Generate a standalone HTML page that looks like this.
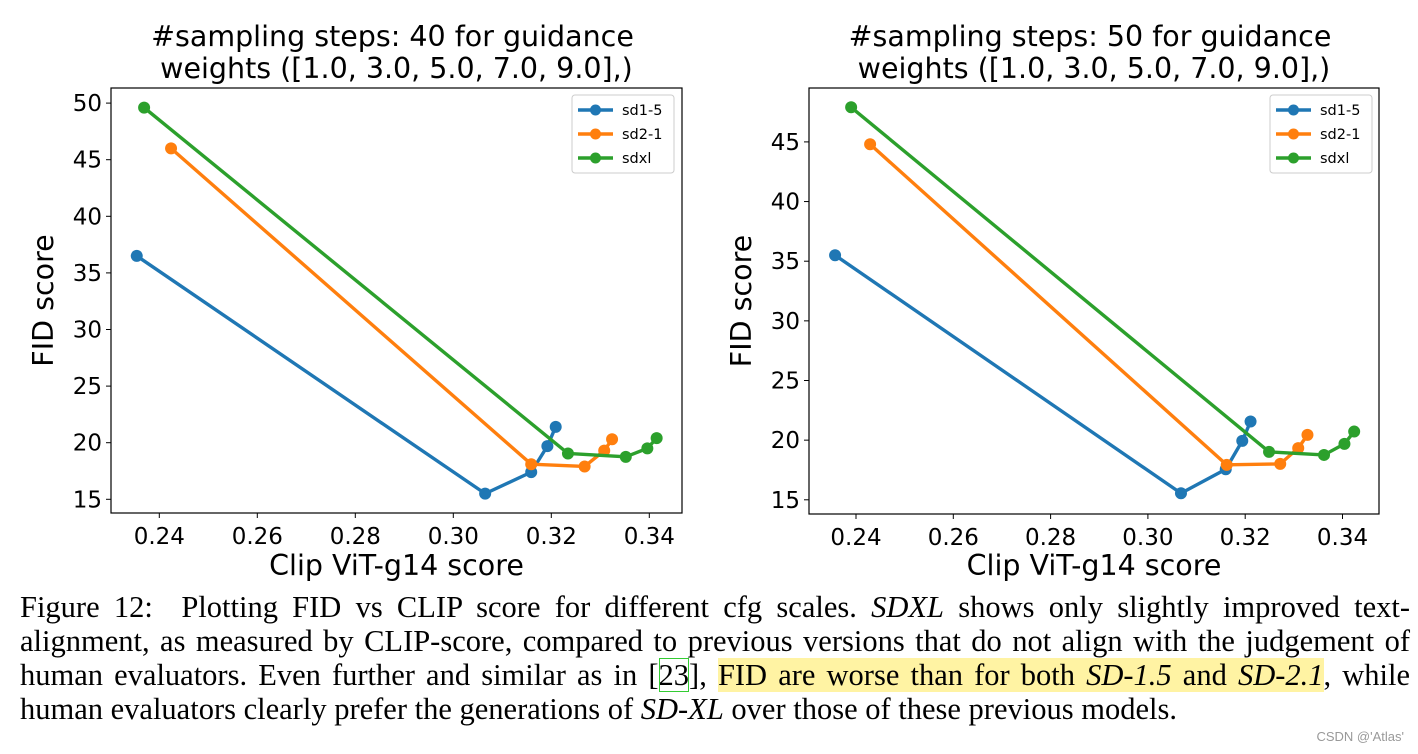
<!DOCTYPE html>
<html><head><meta charset="utf-8"><style>
body{margin:0;background:#fff;width:1418px;height:754px;overflow:hidden;position:relative}
svg{position:absolute;left:0;top:0}
.cap{position:absolute;left:20px;width:1390px;font-family:"Liberation Serif",serif;font-size:30.5px;line-height:34px;color:#000}
.ln{display:block;text-align:justify;text-align-last:justify;white-space:nowrap}
.ln.last{text-align-last:left}
.hl{background:#fff3a3}
.ref{outline:1px solid #3c3;outline-offset:-1px}
.wm{position:absolute;right:14px;top:729px;font-family:"Liberation Sans",sans-serif;font-size:13px;color:#999}
</style></head><body>
<svg id="chart" width="1418" height="590"></svg>
<div class="cap" style="top:590px">
<span class="ln">Figure 12:&nbsp; Plotting FID vs CLIP score for different cfg scales. <i>SDXL</i> shows only slightly improved text-</span>
<span class="ln">alignment, as measured by CLIP-score, compared to previous versions that do not align with the judgement of</span>
<span class="ln">human evaluators. Even further and similar as in [<span class="ref">23</span>], <span class="hl">FID are worse than for both <i>SD-1.5</i> and <i>SD-2.1</i></span>, while</span>
<span class="ln last">human evaluators clearly prefer the generations of <i>SD-XL</i> over those of these previous models.</span>
</div>
<div class="wm">CSDN @'Atlas'</div>
<script>
const seriesNames=["sd1-5","sd2-1","sdxl"];
const colors=["#1f77b4","#ff7f0e","#2ca02c"];
const xTicks=[0.24,0.26,0.28,0.30,0.32,0.34];
const leftYTicks=[15,20,25,30,35,40,45,50];
const rightYTicks=[15,20,25,30,35,40,45];
const leftX1=[0.2354,0.3065,0.3159,0.3192,0.3209];
const leftY1=[36.5,15.5,17.4,19.7,21.4];
const leftX2=[0.2424,0.3159,0.3268,0.3308,0.3324];
const leftY2=[46.0,18.1,17.9,19.3,20.3];
const leftX3=[0.2369,0.3234,0.3352,0.3396,0.3415];
const leftY3=[49.6,19.05,18.75,19.5,20.4];
const rightX1=[0.2357,0.3068,0.3160,0.3194,0.3211];
const rightY1=[35.5,15.55,17.56,19.94,21.56];
const rightX2=[0.2429,0.3162,0.3272,0.3309,0.3328];
const rightY2=[44.8,17.93,18.01,19.33,20.44];
const rightX3=[0.2390,0.3249,0.3362,0.3404,0.3424];
const rightY3=[47.9,19.02,18.76,19.69,20.72];
const titles=["#sampling steps: 40 for guidance","#sampling steps: 50 for guidance"];

const NS="http://www.w3.org/2000/svg";
const svg=document.getElementById('chart');
function mk(tag,attrs,parent){const e=document.createElementNS(NS,tag);for(const k in attrs)e.setAttribute(k,attrs[k]);(parent||svg).appendChild(e);return e;}

function panel(p){
  const g=mk('g',{});
  
  
  const L=p.box[0],T=p.box[1],R=p.box[2],B=p.box[3];
  const sx=v=>p.x0+(v-0.24)*p.xs;
  const sy=v=>p.y15-(v-15)*p.ys;
  const t1=mk('text',{x:(L+R)/2-4,y:46,'text-anchor':'middle','font-size':28.5,'font-family':'DejaVu Sans, sans-serif'},g);
  t1.textContent=p.title;
  
  
  const t2=mk('text',{x:(L+R)/2,y:78,'text-anchor':'middle','font-size':28.5,'font-family':'DejaVu Sans, sans-serif'},g);
  t2.textContent="weights ([1.0, 3.0, 5.0, 7.0, 9.0],)";
  
  
  xTicks.forEach(v=>{
    const x=sx(v);
    mk('line',{x1:x,x2:x,y1:B,y2:B+5,stroke:'#000','stroke-width':1},g);
    const tx=mk('text',{x:x,y:B+31,'text-anchor':'middle','font-size':23,'font-family':'DejaVu Sans, sans-serif'},g);
    tx.textContent=v.toFixed(2);
    
    
  });
  p.yTicks.forEach(v=>{
    const y=sy(v);
    mk('line',{x1:L-5,x2:L,y1:y,y2:y,stroke:'#000','stroke-width':1},g);
    const ty=mk('text',{x:L-9,y:y+8,'text-anchor':'end','font-size':23,'font-family':'DejaVu Sans, sans-serif'},g);
    ty.textContent=v;
    
    
  });
  const xl=mk('text',{x:(L+R)/2,y:575,'text-anchor':'middle','font-size':28.5,'font-family':'DejaVu Sans, sans-serif'},g);
  xl.textContent="Clip ViT-g14 score";
  
  
  const yl=mk('text',{x:0,y:0,'text-anchor':'middle','font-size':28.5,'font-family':'DejaVu Sans, sans-serif',transform:`translate(${L-58},${(T+B)/2}) rotate(-90)`},g);
  yl.textContent="FID score";
  
  
  p.xs_.forEach((xs,i)=>{
    const ys=p.ys_[i];
    const pts=xs.map((x,j)=>sx(x)+','+sy(ys[j])).join(' ');
    const pl=mk('polyline',{points:pts,fill:'none',stroke:colors[i],'stroke-width':3.4,'stroke-linejoin':'round'},g);
    
    
    xs.forEach((x,j)=>{
      const c=mk('circle',{cx:sx(x),cy:sy(ys[j]),r:6,fill:colors[i]},g);
      
      
    });
  });
  mk('rect',{x:L,y:T,width:R-L,height:B-T,fill:'none',stroke:'#000','stroke-width':1.2},g);
  const lg=mk('g',{},g);
  
  
  const lx=p.leg[0],ly=p.leg[1];
  mk('rect',{x:lx,y:ly,width:102,height:78,rx:3,fill:'#fff',stroke:'#ccc','stroke-width':1},lg);
  seriesNames.forEach((n,i)=>{
    const y=ly+15+i*24;
    mk('line',{x1:lx+6,x2:lx+41,y1:y,y2:y,stroke:colors[i],'stroke-width':3.4},lg);
    mk('circle',{cx:lx+23.5,cy:y,r:5.5,fill:colors[i]},lg);
    const tt=mk('text',{x:lx+50,y:y+5,'font-size':14.5,'font-family':'DejaVu Sans, sans-serif'},lg);
    tt.textContent=n;
    
    
  });
}
panel({name:'left-chart',title:titles[0],box:[111,88,682,513],x0:159.3,xs:4900,y15:499.3,ys:11.32,yTicks:leftYTicks,
  xs_:[leftX1,leftX2,leftX3],ys_:[leftY1,leftY2,leftY3],leg:[572,95]});
panel({name:'right-chart',title:titles[1],box:[809,88,1379,514],x0:856,xs:4865,y15:499.8,ys:11.93,yTicks:rightYTicks,
  xs_:[rightX1,rightX2,rightX3],ys_:[rightY1,rightY2,rightY3],leg:[1270,95]});
</script>
</body></html>
